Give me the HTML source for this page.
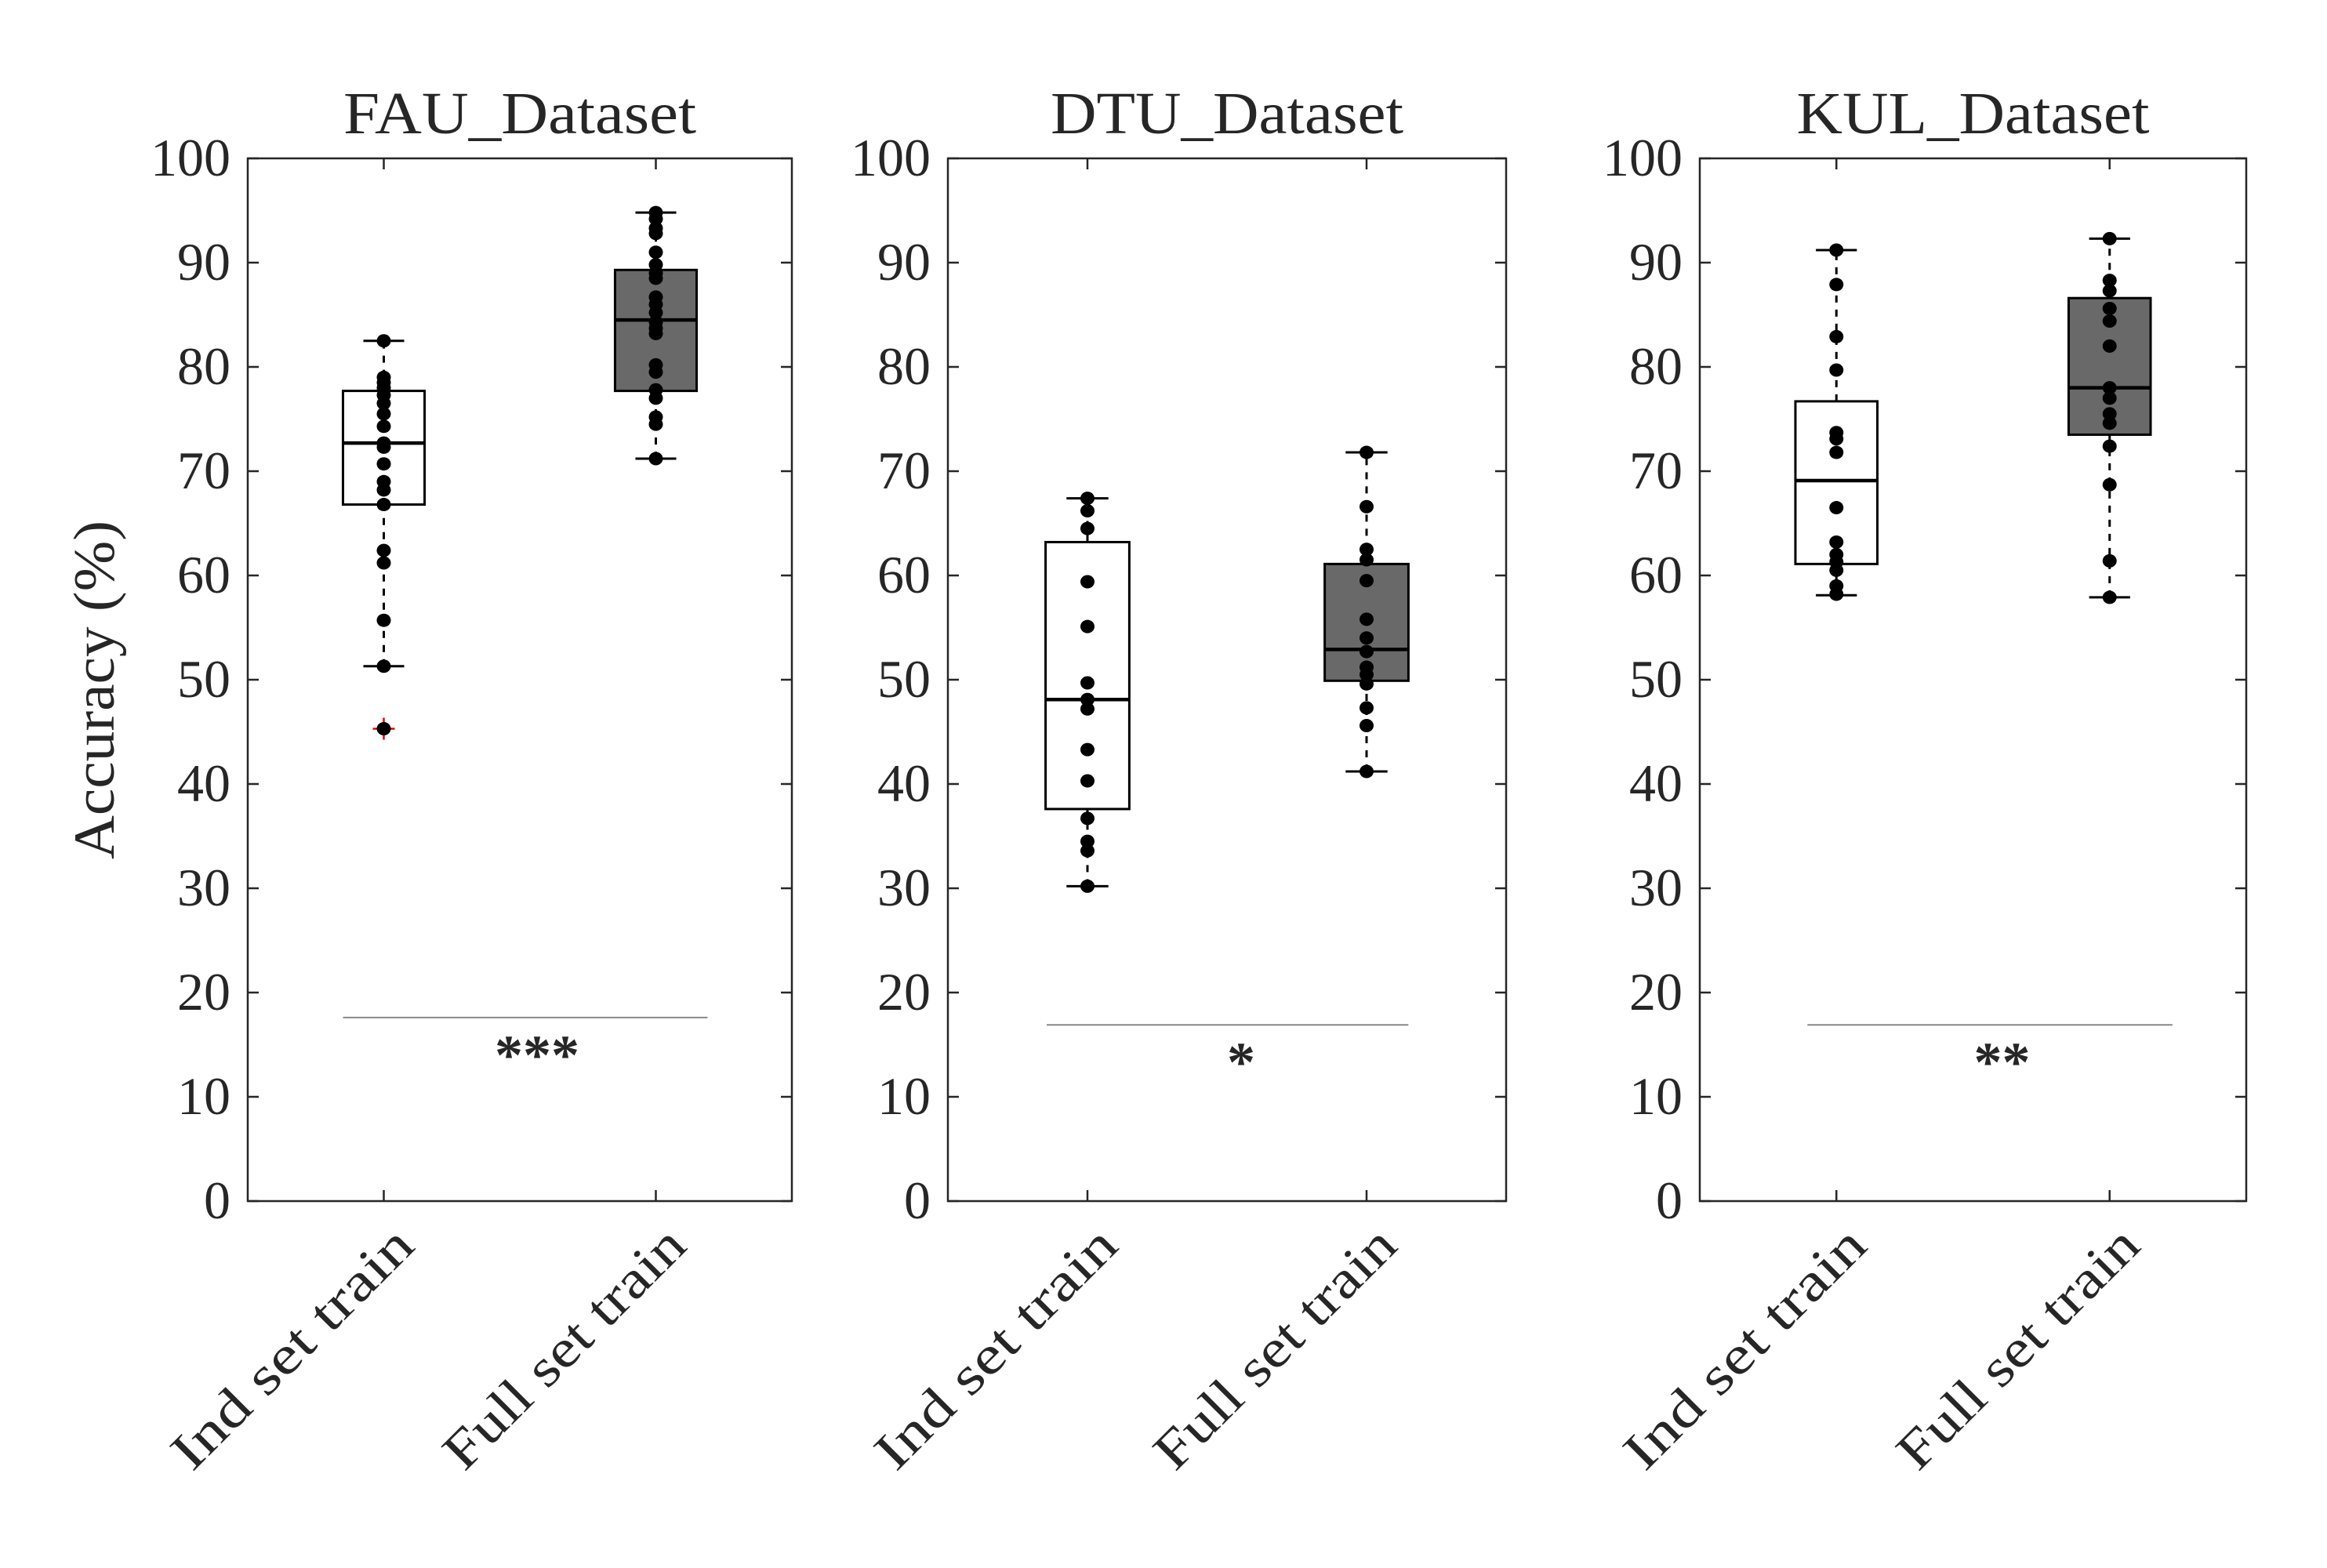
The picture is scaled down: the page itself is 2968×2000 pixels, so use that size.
<!DOCTYPE html>
<html><head><meta charset="utf-8"><style>
html,body{margin:0;padding:0;background:#fff;}
svg{display:block;}
text{font-family:"Liberation Serif",serif;fill:#262626;}
</style></head><body>
<svg id="chart" width="2968" height="2000" viewBox="0 0 2968 2000" xmlns="http://www.w3.org/2000/svg"></svg>
<script>
const panelTitles = ["FAU_Dataset","DTU_Dataset","KUL_Dataset"];
const categories = ["Ind set train","Full set train"];
const yTicks = [0,10,20,30,40,50,60,70,80,90,100];
const sigLabels = ["***","*","**"];
const sigLevels = [17.6,16.9,16.9];
// box stats per panel: [whiskerLow, q1, median, q3, whiskerHigh]
const statsFAU = [[51.3,66.8,72.7,77.7,82.5],[71.2,77.7,84.5,89.3,94.8]];
const statsDTU = [[30.2,37.6,48.1,63.2,67.4],[41.2,49.9,52.9,61.1,71.8]];
const statsKUL = [[58.1,61.1,69.1,76.7,91.2],[57.9,73.5,78.0,86.6,92.3]];
const outliersFAU = [[45.3],[]];
const outliersDTU = [[],[]];
const outliersKUL = [[],[]];
const pointsFAUInd = [82.5,79,78.5,78,77.3,76.5,75.5,74.3,72.7,72.3,70.7,69,68.2,66.8,62.4,61.2,55.7,51.3,45.3];
const pointsFAUFull = [94.8,94.2,93.3,92.8,91,89.8,89,88.5,86.7,86,85.2,84.3,83.7,83.2,80.2,79.5,77.8,77,75.2,74.5,71.2];
const pointsDTUInd = [67.4,66.2,64.5,59.4,55.1,49.7,48.1,47.2,43.3,40.3,36.7,34.5,33.6,30.2];
const pointsDTUFull = [71.8,66.6,62.5,61.5,59.5,55.8,54,52.7,51.2,50.5,49.6,47.3,45.6,41.2];
const pointsKULInd = [91.2,87.9,82.9,79.7,73.7,73.1,71.8,66.5,63.2,62,61.3,60.5,59,58.2];
const pointsKULFull = [92.3,88.3,87.3,85.6,84.4,82,78,77,75.5,74.6,72.4,68.7,61.4,57.9];

const allStats=[statsFAU,statsDTU,statsKUL];
const allOut=[outliersFAU,outliersDTU,outliersKUL];
const allPts=[[pointsFAUInd,pointsFAUFull],[pointsDTUInd,pointsDTUFull],[pointsKULInd,pointsKULFull]];
const panels=[{l:316,r:1010},{l:1209,r:1921},{l:2168,r:2865}];
const sigExt=[[0.15,0.19],[0.146,0.15],[0.106,0.23]];
const starDx=[22,18,22];
const TOP=202,BOT=1532;
const NS="http://www.w3.org/2000/svg";
const svg=document.getElementById('chart');
function mk(tag,attrs,parent){const e=document.createElementNS(NS,tag);for(const k in attrs)e.setAttribute(k,attrs[k]);(parent||svg).appendChild(e);return e;}
const yS=v=>BOT-(v/100)*(BOT-TOP);

panels.forEach((p,pi)=>{
  const g=mk('g',{});
  
  
  const unit=(p.r-p.l)/2;
  const xS=c=>p.l+(c+0.5)*unit;
  const t=mk('text',{x:(p.l+p.r)/2,y:170,'text-anchor':'middle','font-size':76,textLength:450,lengthAdjust:'spacingAndGlyphs'},g);
  t.textContent=panelTitles[pi];
  
  
  yTicks.forEach(v=>{
    const y=yS(v);
    mk('line',{x1:p.l,x2:p.l+14,y1:y,y2:y,stroke:'#262626','stroke-width':2.5},g);
    mk('line',{x1:p.r,x2:p.r-14,y1:y,y2:y,stroke:'#262626','stroke-width':2.5},g);
    const tl=mk('text',{x:p.l-22,y:y+22,'text-anchor':'end','font-size':68},g);
    tl.textContent=v;
    
    
  });
  categories.forEach((c,ci)=>{
    const x=xS(ci);
    mk('line',{x1:x,x2:x,y1:BOT,y2:BOT-14,stroke:'#262626','stroke-width':2.5},g);
    mk('line',{x1:x,x2:x,y1:TOP,y2:TOP+14,stroke:'#262626','stroke-width':2.5},g);
    const ax=x+42, ay=1592;
    const xl=mk('text',{x:ax,y:ay,'text-anchor':'end','font-size':68,textLength:405,lengthAdjust:'spacingAndGlyphs',transform:`rotate(-45 ${ax} ${ay})`},g);
    xl.textContent=c;
    
    
  });
  allStats[pi].forEach((s,ci)=>{
    const x=xS(ci),bw=0.3*unit,cw=0.15*unit;
    const bg=mk('g',{},g);
    
    
    mk('line',{x1:x,x2:x,y1:yS(s[3]),y2:yS(s[4]),stroke:'#000','stroke-width':3,'stroke-dasharray':'9 9'},bg);
    mk('line',{x1:x,x2:x,y1:yS(s[0]),y2:yS(s[1]),stroke:'#000','stroke-width':3,'stroke-dasharray':'9 9'},bg);
    mk('line',{x1:x-cw/2,x2:x+cw/2,y1:yS(s[4]),y2:yS(s[4]),stroke:'#000','stroke-width':3},bg);
    mk('line',{x1:x-cw/2,x2:x+cw/2,y1:yS(s[0]),y2:yS(s[0]),stroke:'#000','stroke-width':3},bg);
    mk('rect',{x:x-bw/2,y:yS(s[3]),width:bw,height:yS(s[1])-yS(s[3]),fill:ci===0?'#fff':'#696969',stroke:'#000','stroke-width':3},bg);
    mk('line',{x1:x-bw/2,x2:x+bw/2,y1:yS(s[2]),y2:yS(s[2]),stroke:'#000','stroke-width':4.5},bg);
    allOut[pi][ci].forEach(v=>{
      const o=mk('path',{d:`M${x-14},${yS(v)}h28M${x},${yS(v)-14}v28`,stroke:'#e00','stroke-width':2.5},bg);
      
      
    });
    allPts[pi][ci].forEach(v=>{
      const d=mk('ellipse',{cx:x,cy:yS(v),rx:9,ry:8.5,fill:'#000'},bg);
      
      
    });
  });
  const x1=xS(0)-sigExt[pi][0]*unit, x2=xS(1)+sigExt[pi][1]*unit;
  const sl=mk('line',{x1:x1,x2:x2,y1:yS(sigLevels[pi]),y2:yS(sigLevels[pi]),stroke:'#888','stroke-width':2},g);
  
  
  const st=mk('text',{x:(xS(0)+xS(1))/2+starDx[pi]+(pi===2?15:0),y:yS(sigLevels[pi])+72,'text-anchor':'middle','font-size':72,'font-weight':'bold',fill:'#000'},g);
  st.textContent=sigLabels[pi];
  
  
  mk('rect',{x:p.l,y:TOP,width:p.r-p.l,height:BOT-TOP,fill:'none',stroke:'#262626','stroke-width':2.5},g);
});
const yl=mk('text',{x:0,y:0,'text-anchor':'middle','font-size':74,transform:'translate(145 880) rotate(-90)',textLength:432,lengthAdjust:'spacingAndGlyphs'});
yl.textContent='Accuracy (%)';


</script>
</body></html>
